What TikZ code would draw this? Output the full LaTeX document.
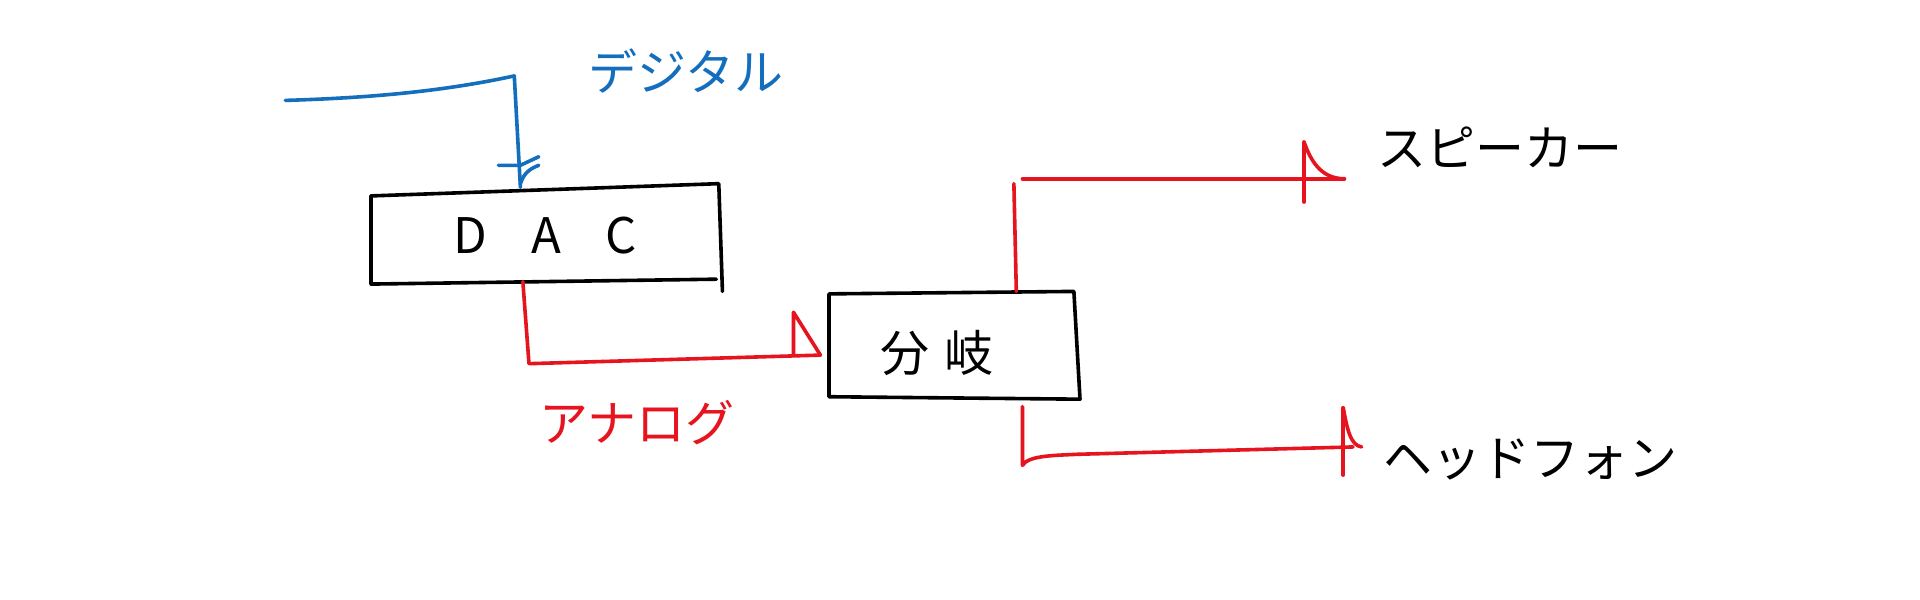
\documentclass[tikz,border=0pt]{standalone}
\usepackage{fontspec}
\newfontfamily\cjk{Noto Sans CJK JP}
\begin{document}
\begin{tikzpicture}[x=1.2245pt,y=-1.2245pt,
  ink/.style={line width=3.6pt,line cap=round,line join=round},
  lbl/.style={font=\cjk\fontsize{49}{54}\selectfont,inner sep=0pt}]
\definecolor{bl}{RGB}{20,110,190}
\definecolor{rd}{RGB}{230,20,30}
\fill[white] (0,0) rectangle (1568,490);
% DAC box
\draw[ink] (303,160) -- (587,150) -- (590,238);
\draw[ink] (303,160) -- (303,232) -- (585,228);
\node[lbl] (dac) at (445,192) {D\hspace{0.9em}A\hspace{0.9em}C};
% branch box
\draw[ink] (677,240) -- (877,238) -- (882,326) -- (677,324) -- cycle;
\node[lbl] (bun) at (765,288) {分\hspace{0.3em}岐};
% digital input
\coordinate (din) at (233,82);
\coordinate (dtop) at (420,62);
\coordinate (dend) at (425,153);
\draw[ink,bl] (din) .. controls (300,80) and (360,75) .. (dtop) -- (dend);
\draw[ink,bl] (407,135) -- (425,135) -- (440,128);
\draw[ink,bl] (425,150) .. controls (428,140) and (435,137) .. (440,135);
\node[lbl,bl] (dig) at (560,58) {デジタル};
% analog
\coordinate (a1) at (427,230);
\coordinate (a2) at (432,297);
\coordinate (a3) at (670,290);
\draw[ink,rd] (a1) -- (a2) -- (a3);
\draw[ink,rd] (648,290) -- (648,255) -- (670,290);
\node[lbl,rd] (ana) at (520,345) {アナログ};
% speaker
\coordinate (s1) at (830,238);
\coordinate (s2) at (828,150);
\coordinate (s3) at (835,146);
\coordinate (s4) at (1098,146);
\draw[ink,rd] (s1) -- (s2);
\draw[ink,rd] (s3) -- (s4);
\draw[ink,rd] (1065,116) -- (1065,165);
\draw[ink,rd] (1065,116) .. controls (1070,130) and (1078,146) .. (1098,146);
\node[lbl] (spk) at (1225,120) {スピーカー};
% headphone
\coordinate (h1) at (835,332);
\coordinate (h2) at (835,380);
\coordinate (h3) at (1105,365);
\draw[ink,rd] (h1) -- (h2) .. controls (840,372) and (860,372) .. (880,371) -- (h3);
\draw[ink,rd] (1097,333) -- (1097,388);
\draw[ink,rd] (1097,333) .. controls (1100,350) and (1103,364) .. (1112,365);
\node[lbl] (hp) at (1250,375) {ヘッドフォン};
\pgfresetboundingbox
\path[use as bounding box] (0,0) rectangle (1568,490);
\end{tikzpicture}
\end{document}
